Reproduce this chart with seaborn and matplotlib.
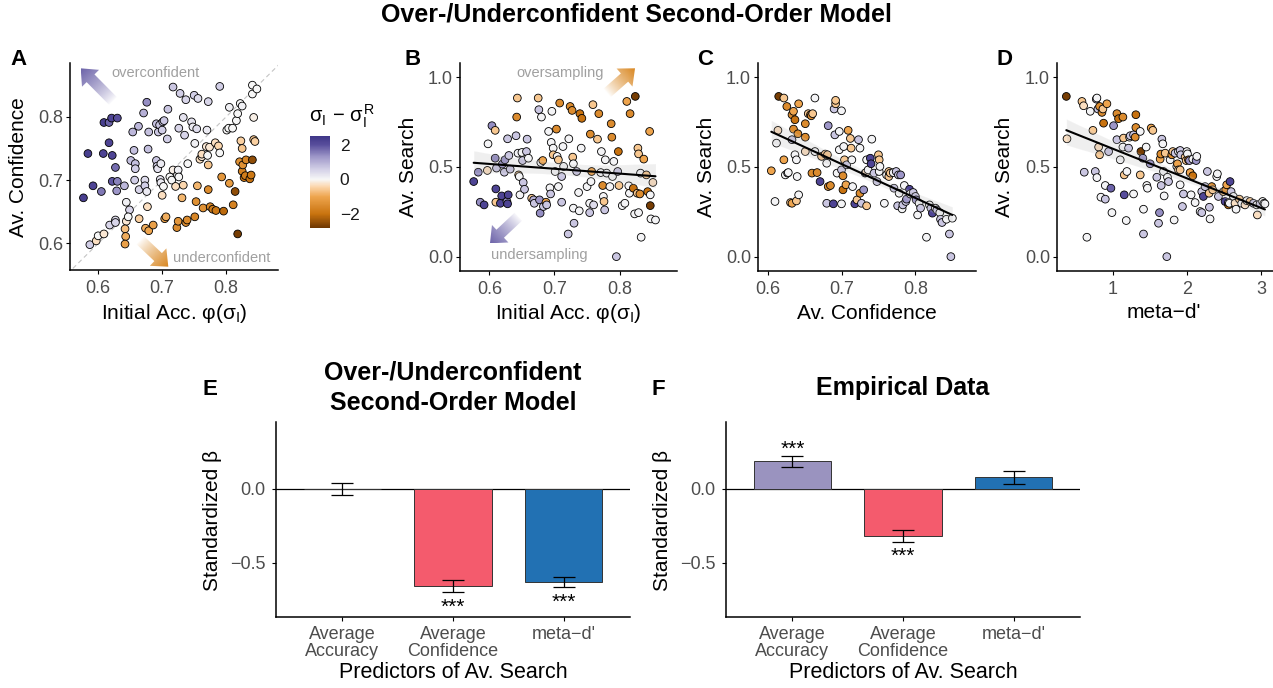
import numpy as np
import pandas as pd
import matplotlib
matplotlib.use("Agg")
import matplotlib.pyplot as plt
import seaborn as sns
from matplotlib.colors import LinearSegmentedColormap, Normalize, to_rgb
from matplotlib.patches import Polygon
from matplotlib.cm import ScalarMappable

# ---------------------------------------------------------------------------
# Data: one row per simulated participant (x, y, sigma_I - sigma_I^R)
# ---------------------------------------------------------------------------
acc_conf = [  # Initial accuracy, average confidence, sigma difference
    (0.577, 0.672, 2.3), (0.584, 0.742, 2.3), (0.592, 0.691, 2.2), (0.605, 0.682, 1.6),
    (0.608, 0.742, 2.2), (0.609, 0.791, 2.3), (0.617, 0.791, 1.8), (0.621, 0.798, 2.2),
    (0.617, 0.759, 2.2), (0.622, 0.739, 2.2), (0.630, 0.798, 2.0), (0.627, 0.720, 1.7),
    (0.622, 0.698, 1.9), (0.630, 0.698, 1.5), (0.629, 0.683, 1.3), (0.641, 0.691, 0.9),
    (0.587, 0.598, 0.6), (0.597, 0.604, -0.3), (0.600, 0.612, 0.0), (0.609, 0.615, -0.2),
    (0.618, 0.629, 0.5), (0.627, 0.637, 0.4), (0.627, 0.633, 0.5), (0.644, 0.635, -0.2),
    (0.642, 0.623, -0.7), (0.643, 0.611, -0.9), (0.642, 0.599, -1.1), (0.644, 0.665, 0.1),
    (0.649, 0.653, 0.5), (0.647, 0.642, 0.0), (0.654, 0.776, 0.9), (0.656, 0.747, 0.8),
    (0.651, 0.731, 0.8), (0.658, 0.726, 0.8), (0.658, 0.718, 0.6), (0.657, 0.700, 0.6),
    (0.663, 0.785, 0.9), (0.664, 0.685, 0.5), (0.664, 0.639, -0.5), (0.671, 0.806, 1.0),
    (0.676, 0.823, 1.4), (0.673, 0.700, 0.4), (0.673, 0.691, 0.6), (0.676, 0.682, 0.2),
    (0.678, 0.749, 0.8), (0.679, 0.776, 0.8), (0.677, 0.658, -0.3), (0.674, 0.624, -0.9),
    (0.679, 0.620, -1.0), (0.686, 0.629, -1.1), (0.691, 0.731, 0.7), (0.692, 0.722, 0.6),
    (0.691, 0.789, 0.8), (0.693, 0.718, 0.3), (0.694, 0.776, 0.7), (0.696, 0.787, 0.7),
    (0.698, 0.726, 0.2), (0.697, 0.701, 0.3), (0.701, 0.792, 0.7), (0.700, 0.779, 0.6),
    (0.703, 0.794, 0.7), (0.708, 0.765, 0.6), (0.700, 0.676, -0.3), (0.698, 0.696, 0.2),
    (0.702, 0.690, 0.0), (0.704, 0.639, -1.1), (0.706, 0.642, -0.9), (0.709, 0.812, 0.7),
    (0.712, 0.705, 0.0), (0.715, 0.700, 0.0), (0.717, 0.716, -0.1), (0.721, 0.690, -0.3),
    (0.724, 0.708, 0.0), (0.725, 0.716, 0.1), (0.726, 0.705, 0.0), (0.723, 0.625, -1.5),
    (0.725, 0.635, -1.3), (0.726, 0.782, 0.5), (0.717, 0.847, 0.7), (0.728, 0.837, 0.6),
    (0.733, 0.799, 0.3), (0.731, 0.672, -0.8), (0.733, 0.692, -0.4), (0.735, 0.771, 0.5),
    (0.737, 0.827, 0.5), (0.737, 0.633, -1.5), (0.739, 0.637, -1.5), (0.740, 0.726, 0.0),
    (0.746, 0.792, 0.3), (0.748, 0.784, 0.2), (0.754, 0.781, 0.4), (0.751, 0.642, -1.6),
    (0.753, 0.666, -1.4), (0.750, 0.834, 0.6), (0.756, 0.829, 0.4), (0.751, 0.758, 0.1),
    (0.755, 0.691, -0.8), (0.759, 0.733, -0.3), (0.762, 0.737, -0.2), (0.762, 0.741, -0.3),
    (0.769, 0.753, -0.2), (0.764, 0.656, -1.4), (0.770, 0.779, 0.2), (0.771, 0.739, 0.0),
    (0.772, 0.824, 0.5), (0.772, 0.724, -0.6), (0.772, 0.685, -1.5), (0.774, 0.752, -0.2),
    (0.775, 0.658, -1.6), (0.779, 0.654, -1.8), (0.783, 0.759, -0.3), (0.784, 0.652, -1.9),
    (0.788, 0.754, -0.4), (0.790, 0.743, 0.0), (0.790, 0.848, 0.6), (0.793, 0.705, -1.3),
    (0.796, 0.651, -2.1), (0.801, 0.779, 0.0), (0.804, 0.782, 0.0), (0.805, 0.815, 0.1),
    (0.805, 0.695, -1.2), (0.810, 0.782, 0.0), (0.811, 0.661, -1.7), (0.814, 0.682, -2.5),
    (0.816, 0.794, 0.0), (0.818, 0.805, 0.0), (0.818, 0.615, -2.7), (0.822, 0.821, 0.0),
    (0.825, 0.817, 0.1), (0.821, 0.729, -1.4), (0.823, 0.762, -0.5), (0.825, 0.750, -0.6),
    (0.825, 0.714, -1.7), (0.826, 0.724, -1.4), (0.828, 0.704, -1.9), (0.830, 0.707, -1.8),
    (0.831, 0.732, -1.6), (0.837, 0.702, -2.0), (0.839, 0.708, -1.9), (0.841, 0.732, -2.5),
    (0.841, 0.850, 0.0), (0.841, 0.836, 0.0), (0.843, 0.799, -0.1), (0.843, 0.764, -0.6),
    (0.845, 0.761, -0.5), (0.848, 0.844, 0.0),
]

acc_search = [  # Initial accuracy, average search, sigma difference
    (0.576, 0.418, 2.2), (0.583, 0.470, 1.4), (0.586, 0.303, 1.4), (0.592, 0.288, 2.2),
    (0.598, 0.628, 0.05), (0.597, 0.480, -0.3), (0.604, 0.729, 1.4), (0.609, 0.703, -0.6),
    (0.609, 0.548, 1.4), (0.610, 0.377, 2.2), (0.610, 0.303, -0.6), (0.611, 0.493, 0.7),
    (0.617, 0.297, 2.2), (0.619, 0.338, 2.2), (0.620, 0.515, 1.3), (0.623, 0.470, 0.7),
    (0.624, 0.539, 1.3), (0.627, 0.307, 1.3), (0.628, 0.294, 2.2), (0.629, 0.344, 2.2),
    (0.628, 0.656, 0.7), (0.630, 0.563, 0.7), (0.632, 0.487, 0.7), (0.641, 0.673, 0.7),
    (0.642, 0.777, -1.5), (0.643, 0.883, -0.6), (0.644, 0.576, 0.05), (0.645, 0.455, -0.6),
    (0.646, 0.446, 0.05), (0.647, 0.344, 0.05), (0.650, 0.580, 0.05), (0.651, 0.535, 0.7),
    (0.652, 0.413, 0.7), (0.654, 0.375, 0.7), (0.657, 0.585, 0.7), (0.658, 0.654, 0.7),
    (0.660, 0.548, 0.05), (0.665, 0.325, -0.6), (0.668, 0.316, 1.0), (0.669, 0.297, 0.7),
    (0.675, 0.883, -0.6), (0.676, 0.818, 0.7), (0.680, 0.777, 0.05), (0.677, 0.316, 1.3),
    (0.678, 0.242, 1.4), (0.679, 0.524, 0.05), (0.682, 0.535, -1.0), (0.683, 0.279, 0.7),
    (0.687, 0.303, -1.0), (0.688, 0.288, 0.7), (0.691, 0.697, 0.05), (0.693, 0.383, 0.05),
    (0.694, 0.349, 0.7), (0.696, 0.809, 0.05), (0.695, 0.636, 0.05), (0.698, 0.604, 0.05),
    (0.698, 0.567, -0.6), (0.701, 0.474, 0.05), (0.703, 0.710, -1.5), (0.704, 0.558, 0.05),
    (0.706, 0.539, -0.6), (0.706, 0.390, 0.05), (0.708, 0.855, -1.5), (0.711, 0.446, 0.7),
    (0.711, 0.303, 0.7), (0.713, 0.613, 0.05), (0.714, 0.502, 0.05), (0.721, 0.126, 0.7),
    (0.722, 0.656, 0.05), (0.724, 0.836, -1.5), (0.727, 0.814, -1.5), (0.728, 0.554, -0.6),
    (0.729, 0.517, 0.05), (0.729, 0.270, 0.05), (0.730, 0.186, 0.7), (0.734, 0.474, 0.7),
    (0.737, 0.357, 0.05), (0.738, 0.255, 0.05), (0.739, 0.796, -2.0), (0.741, 0.604, 0.05),
    (0.742, 0.770, -2.0), (0.750, 0.390, 0.05), (0.755, 0.682, -1.5), (0.756, 0.418, 0.05),
    (0.757, 0.474, -1.0), (0.754, 0.297, 0.05), (0.754, 0.245, 0.7), (0.760, 0.288, 0.4),
    (0.759, 0.846, -0.6), (0.766, 0.654, -0.6), (0.768, 0.796, -1.5), (0.772, 0.585, 0.05),
    (0.771, 0.468, 0.05), (0.774, 0.396, -1.5), (0.775, 0.335, 0.05), (0.776, 0.307, -0.6),
    (0.777, 0.260, 0.7), (0.778, 0.539, 0.05), (0.780, 0.465, 0.05), (0.785, 0.390, 0.05),
    (0.787, 0.740, -1.5), (0.788, 0.665, -1.5), (0.789, 0.446, 0.05), (0.791, 0.530, 0.05),
    (0.795, 0.000, 0.7), (0.797, 0.474, 0.7), (0.798, 0.585, -2.0), (0.799, 0.396, -0.6),
    (0.804, 0.284, 0.05), (0.808, 0.297, 0.05), (0.811, 0.864, -1.0), (0.814, 0.394, 0.05),
    (0.815, 0.353, 0.05), (0.816, 0.796, -1.5), (0.821, 0.381, -2.0), (0.824, 0.892, -2.7),
    (0.823, 0.238, 0.05), (0.827, 0.353, -0.6), (0.828, 0.604, -0.6), (0.829, 0.572, -0.6),
    (0.829, 0.245, 0.05), (0.831, 0.349, -1.5), (0.832, 0.465, 0.05), (0.833, 0.108, 0.05),
    (0.837, 0.543, -1.0), (0.841, 0.455, -0.6), (0.843, 0.362, -2.0), (0.846, 0.697, -1.0),
    (0.847, 0.284, -2.7), (0.847, 0.344, 0.05), (0.848, 0.210, 0.05), (0.851, 0.413, -0.3),
    (0.855, 0.204, 0.05),
]

conf_search = [  # Average confidence, average search, sigma difference
    (0.605, 0.478, -1.0), (0.610, 0.307, 0.05), (0.612, 0.632, 0.05), (0.614, 0.703, -0.3),
    (0.615, 0.892, -2.7), (0.622, 0.539, -1.0), (0.622, 0.883, -0.6), (0.626, 0.836, -1.5),
    (0.624, 0.455, 0.05), (0.627, 0.465, 0.7), (0.628, 0.468, 0.05), (0.631, 0.301, -0.6),
    (0.633, 0.297, -1.0), (0.633, 0.790, -1.5), (0.635, 0.809, -1.0), (0.635, 0.710, -1.5),
    (0.633, 0.651, 0.7), (0.637, 0.762, -2.0), (0.637, 0.567, 0.05), (0.639, 0.539, 0.05),
    (0.639, 0.310, -0.6), (0.641, 0.684, -1.5), (0.642, 0.851, -1.0), (0.642, 0.344, 0.05),
    (0.640, 0.446, 0.05), (0.651, 0.665, -1.5), (0.651, 0.740, -1.5), (0.651, 0.585, -0.3),
    (0.655, 0.796, -0.6), (0.658, 0.790, -1.0), (0.659, 0.784, -1.5), (0.661, 0.796, -0.6),
    (0.660, 0.465, -1.5), (0.664, 0.585, 0.05), (0.664, 0.883, 0.05), (0.667, 0.468, -1.5),
    (0.671, 0.418, 2.2), (0.673, 0.558, -0.6), (0.678, 0.571, -0.6), (0.680, 0.520, 0.05),
    (0.681, 0.567, -0.6), (0.680, 0.297, 0.7), (0.682, 0.729, 1.3), (0.682, 0.390, -1.5),
    (0.685, 0.396, -1.5), (0.689, 0.294, 2.2), (0.690, 0.822, 0.7), (0.691, 0.678, 0.7),
    (0.692, 0.851, -0.6), (0.692, 0.870, -0.6), (0.694, 0.465, 0.05), (0.697, 0.697, 0.05),
    (0.697, 0.595, 0.05), (0.700, 0.294, 0.05), (0.700, 0.812, 0.05), (0.700, 0.483, 0.7),
    (0.702, 0.372, -2.0), (0.702, 0.450, -1.5), (0.703, 0.613, 0.05), (0.704, 0.539, -0.6),
    (0.706, 0.400, -1.0), (0.707, 0.511, 0.7), (0.709, 0.703, -1.0), (0.712, 0.658, -0.6),
    (0.713, 0.604, -0.6), (0.714, 0.539, 0.05), (0.715, 0.390, 0.05), (0.718, 0.294, 2.2),
    (0.721, 0.316, -0.6), (0.723, 0.651, 0.7), (0.725, 0.604, 0.05), (0.725, 0.353, -1.5),
    (0.727, 0.297, 0.7), (0.730, 0.372, 1.3), (0.732, 0.465, 0.7), (0.734, 0.283, -0.6),
    (0.733, 0.468, -0.3), (0.734, 0.539, 0.05), (0.736, 0.483, 0.05), (0.739, 0.548, 2.2),
    (0.740, 0.517, 2.2), (0.741, 0.654, 0.05), (0.744, 0.465, 0.7), (0.748, 0.418, 0.7),
    (0.750, 0.567, -0.6), (0.751, 0.539, -0.6), (0.751, 0.474, 0.05), (0.752, 0.502, 0.05),
    (0.758, 0.297, 0.05), (0.761, 0.455, 0.05), (0.764, 0.446, -0.6), (0.764, 0.474, -0.6),
    (0.766, 0.465, -0.6), (0.770, 0.468, 0.05), (0.771, 0.381, 0.7), (0.774, 0.474, 0.7),
    (0.776, 0.283, 0.7), (0.777, 0.455, 0.7), (0.778, 0.353, 0.05), (0.780, 0.455, 1.3),
    (0.782, 0.266, 0.05), (0.783, 0.288, 0.7), (0.785, 0.396, 0.05), (0.787, 0.307, 0.7),
    (0.788, 0.320, 1.3), (0.792, 0.375, 2.2), (0.793, 0.349, 0.05), (0.797, 0.357, 0.7),
    (0.800, 0.335, 0.7), (0.801, 0.316, 1.3), (0.803, 0.232, 0.05), (0.805, 0.297, 0.05),
    (0.807, 0.270, 0.7), (0.815, 0.108, 0.05), (0.819, 0.288, 0.05), (0.821, 0.270, 0.7),
    (0.823, 0.242, 2.2), (0.827, 0.270, 0.05), (0.829, 0.260, 0.7), (0.833, 0.245, 0.05),
    (0.834, 0.208, 0.7), (0.836, 0.190, 0.7), (0.842, 0.208, 0.05), (0.846, 0.126, 0.7),
    (0.848, 0.000, 0.7), (0.850, 0.214, 0.05),
]

metad_search = [  # meta-d', average search, sigma difference
    (0.371, 0.892, -2.7), (0.380, 0.656, -0.3), (0.582, 0.864, -0.6), (0.604, 0.840, -0.3),
    (0.613, 0.470, 0.7), (0.649, 0.108, 0.05), (0.694, 0.809, 0.05), (0.730, 0.703, -0.6),
    (0.762, 0.474, 0.7), (0.775, 0.877, 0.7), (0.784, 0.883, 0.05), (0.784, 0.440, 0.05),
    (0.798, 0.822, 0.7), (0.820, 0.836, -1.5), (0.807, 0.610, -0.3), (0.820, 0.567, -0.6),
    (0.838, 0.331, 0.05), (0.852, 0.803, -1.5), (0.865, 0.822, -0.6), (0.874, 0.743, -2.0),
    (0.897, 0.320, 0.7), (0.897, 0.396, 0.05), (0.919, 0.851, -1.0), (0.942, 0.585, 0.7),
    (0.973, 0.381, 1.8), (1.009, 0.729, 1.3), (0.987, 0.245, 0.05), (1.054, 0.796, -1.5),
    (1.076, 0.768, -2.0), (1.054, 0.651, 0.7), (1.099, 0.539, 0.05), (1.135, 0.777, -1.5),
    (1.135, 0.610, 0.05), (1.144, 0.660, -0.6), (1.153, 0.455, -0.6), (1.153, 0.344, 2.0),
    (1.180, 0.201, 0.05), (1.189, 0.474, 0.05), (1.211, 0.604, 0.7), (1.225, 0.665, 0.05),
    (1.234, 0.673, 0.7), (1.279, 0.678, 0.7), (1.279, 0.349, 0.05), (1.301, 0.665, -1.5),
    (1.310, 0.719, -1.5), (1.310, 0.790, -2.0), (1.369, 0.455, -0.6), (1.378, 0.585, -2.7),
    (1.369, 0.697, 0.05), (1.404, 0.548, 1.3), (1.413, 0.264, 0.05), (1.413, 0.126, 0.7),
    (1.449, 0.610, 0.05), (1.458, 0.396, 0.05), (1.467, 0.381, 0.05), (1.503, 0.517, 1.3),
    (1.517, 0.716, -1.0), (1.539, 0.703, -0.6), (1.593, 0.442, 0.7), (1.616, 0.186, 0.7),
    (1.629, 0.245, 1.4), (1.638, 0.543, -1.0), (1.647, 0.571, -1.5), (1.652, 0.396, 0.7),
    (1.661, 0.654, 0.7), (1.674, 0.628, 0.05), (1.683, 0.474, 0.05), (1.692, 0.338, 0.05),
    (1.706, 0.576, -0.6), (1.728, 0.000, 0.7), (1.737, 0.442, 0.05), (1.751, 0.418, 0.7),
    (1.773, 0.539, 0.05), (1.795, 0.567, -1.5), (1.809, 0.585, -0.6), (1.827, 0.204, 0.05),
    (1.840, 0.576, 0.7), (1.863, 0.502, 0.05), (1.872, 0.517, -1.0), (1.885, 0.483, -0.6),
    (1.885, 0.585, 0.05), (1.908, 0.591, 0.7), (1.908, 0.483, -0.6), (1.908, 0.400, 0.05),
    (1.917, 0.567, 0.7), (1.939, 0.279, 0.7), (1.953, 0.349, 0.7), (1.975, 0.554, -0.6),
    (1.989, 0.535, -0.6), (1.998, 0.585, 0.05), (2.007, 0.572, 0.05), (2.020, 0.539, -1.5),
    (2.034, 0.535, 1.3), (2.043, 0.465, 0.05), (2.043, 0.468, -1.0), (2.056, 0.344, 0.05),
    (2.079, 0.543, 0.05), (2.079, 0.450, -2.0), (2.110, 0.301, 0.05), (2.124, 0.535, 1.3),
    (2.133, 0.558, 0.05), (2.178, 0.251, 0.05), (2.200, 0.245, 0.7), (2.200, 0.362, 0.7),
    (2.222, 0.335, 2.2), (2.245, 0.390, 0.7), (2.276, 0.474, 0.7), (2.299, 0.353, -0.6),
    (2.303, 0.275, 0.7), (2.312, 0.210, 0.05), (2.335, 0.390, -1.5), (2.348, 0.372, -0.6),
    (2.402, 0.446, 0.05), (2.411, 0.461, 0.05), (2.425, 0.335, 0.7), (2.492, 0.362, -0.6),
    (2.515, 0.307, 2.2), (2.524, 0.372, -1.5), (2.537, 0.400, -1.0), (2.560, 0.288, -2.0),
    (2.560, 0.301, 0.7), (2.573, 0.297, 0.05), (2.582, 0.418, 2.2), (2.596, 0.362, 0.7),
    (2.627, 0.335, 0.05), (2.649, 0.297, -0.3), (2.663, 0.264, 0.05), (2.708, 0.320, -0.6),
    (2.739, 0.297, 0.05), (2.784, 0.288, -0.3), (2.807, 0.312, 0.05), (2.852, 0.307, -0.6),
    (2.897, 0.297, 0.7), (2.942, 0.288, 0.05), (2.951, 0.232, -0.3), (2.987, 0.294, 0.7),
    (3.022, 0.307, 0.05), (3.040, 0.297, 0.05), (3.053, 0.294, 0.05),
]

# Regression coefficients predicting average search
predictors = ["Average\nAccuracy", "Average\nConfidence", "meta\u2212d'"]
model_beta = [-0.002, -0.661, -0.632]
model_se = [0.040, 0.040, 0.036]
model_sig = ["", "***", "***"]
empirical_beta = [0.186, -0.318, 0.075]
empirical_se = [0.037, 0.040, 0.041]
empirical_sig = ["***", "***", ""]

# ---------------------------------------------------------------------------
# Style
# ---------------------------------------------------------------------------
sns.set_style("ticks")
plt.rcParams["font.family"] = ["Liberation Sans", "DejaVu Sans"]
plt.rcParams["mathtext.fontset"] = "custom"
plt.rcParams["mathtext.rm"] = "Liberation Sans"
plt.rcParams["mathtext.it"] = "Liberation Sans"
plt.rcParams["mathtext.bf"] = "Liberation Sans:bold"
plt.rcParams["text.color"] = "black"
plt.rcParams["axes.labelcolor"] = "black"

TICK_GREY = "#4d4d4d"
VMIN, VMAX = -2.8, 2.5
stops = [(-2.8, "#6e3702"), (-2.0, "#c9730f"), (-1.0, "#eea54e"), (-0.4, "#fcd8b0"),
         (0.0, "#f7f7f7"), (0.6, "#d2cfe6"), (1.3, "#9f98c9"), (2.0, "#584e9c"),
         (2.5, "#3f3688")]
cmap = LinearSegmentedColormap.from_list(
    "sigma_diff", [((v - VMIN) / (VMAX - VMIN), c) for v, c in stops])
norm = Normalize(VMIN, VMAX)
bar_colors = ["#9a93bf", "#f45b6d", "#2271b3"]

W, H = 1273, 688
fig = plt.figure(figsize=(W / 100, H / 100), dpi=100)


def add_axes(left, top, right, bottom):
    return fig.add_axes([left / W, 1 - bottom / H, (right - left) / W, (bottom - top) / H])


def ftext(x, y, s, **kw):
    fig.text(x / W, 1 - y / H, s, **kw)


def style_axes(ax, xlim, ylim, xticks, xlabels, yticks, ylabels, xpad=4.0, ypad=2.0, size=13):
    ax.set_xlim(*xlim)
    ax.set_ylim(*ylim)
    ax.set_xticks(xticks)
    ax.set_xticklabels(xlabels)
    ax.set_yticks(yticks)
    ax.set_yticklabels(ylabels)
    ax.set_xlabel("")
    ax.set_ylabel("")
    for s in ("top", "right"):
        ax.spines[s].set_visible(False)
    for s in ("left", "bottom"):
        ax.spines[s].set_linewidth(1.1)
        ax.spines[s].set_color("black")
    ax.tick_params(length=3, width=0.8, color="black", labelcolor=TICK_GREY, labelsize=size)
    ax.tick_params(axis="x", pad=xpad)
    ax.tick_params(axis="y", pad=ypad)
    ax.set_facecolor("none")


def scatter(ax, df, x, y, reg=False):
    sns.scatterplot(data=df, x=x, y=y, hue="diff", palette=cmap, hue_norm=norm, s=31,
                    edgecolor="black", linewidth=0.6, legend=False, ax=ax, zorder=3)
    if reg:
        sns.regplot(data=df, x=x, y=y, scatter=False, ci=95, n_boot=1000, seed=7,
                    color="black", line_kws={"lw": 1.5}, truncate=True, ax=ax)
        ax.collections[-1].set_facecolor((0.6, 0.6, 0.6, 0.45))
        ax.collections[-1].set_zorder(3.5)
        ax.lines[-1].set_zorder(4)


def gradient_arrow(ax, tail, tip, color, shaft=11, head_w=24, head_len=14):
    tr = ax.transData
    p0 = tr.transform(tail)
    p1 = tr.transform(tip)
    d = p1 - p0
    L = np.hypot(*d)
    u = d / L
    n = np.array([-u[1], u[0]])
    b = p1 - u * head_len
    pts = np.array([p0 + n * shaft / 2, b + n * shaft / 2, b + n * head_w / 2, p1,
                    b - n * head_w / 2, b - n * shaft / 2, p0 - n * shaft / 2])
    dpts = tr.inverted().transform(pts)
    poly = Polygon(dpts, closed=True, facecolor="none", edgecolor="none", transform=tr)
    ax.add_patch(poly)
    x0, y0 = dpts.min(0)
    x1, y1 = dpts.max(0)
    X, Y = np.meshgrid(np.linspace(x0, x1, 90), np.linspace(y0, y1, 90))
    disp = tr.transform(np.column_stack([X.ravel(), Y.ravel()]))
    t = np.clip(((disp - p0) @ u) / L, 0, 1).reshape(X.shape)
    rgba = np.zeros(X.shape + (4,))
    rgba[..., :3] = to_rgb(color)
    rgba[..., 3] = t ** 0.85
    im = ax.imshow(rgba, extent=(x0, x1, y0, y1), origin="lower", aspect="auto",
                   interpolation="bilinear", zorder=2)
    im.set_clip_path(poly)


df_a = pd.DataFrame(acc_conf, columns=["acc", "conf", "diff"])
df_b = pd.DataFrame(acc_search, columns=["acc", "search", "diff"])
df_c = pd.DataFrame(conf_search, columns=["conf", "search", "diff"])
df_d = pd.DataFrame(metad_search, columns=["metad", "search", "diff"])

search_ticks = ([0.0, 0.5, 1.0], ["0.0", "0.5", "1.0"])
acc_ticks = ([0.6, 0.7, 0.8], ["0.6", "0.7", "0.8"])

# ---------------- Panel A ----------------
axA = add_axes(70, 63, 278, 270)
xlimA, ylimA = (0.556, 0.881), (0.558, 0.885)
axA.plot([0.5, 0.95], [0.5, 0.95], ls=(0, (4, 3)), color="#c4c4c4", lw=0.8, zorder=1)
scatter(axA, df_a, "acc", "conf")
style_axes(axA, xlimA, ylimA, *acc_ticks, [0.6, 0.7, 0.8], ["0.6", "0.7", "0.8"])
gradient_arrow(axA, (0.6232, 0.825), (0.5727, 0.8766), "#6c63a9")
gradient_arrow(axA, (0.6654, 0.6054), (0.7096, 0.5632), "#d9861f")
axA.text(0.6212, 0.8697, "overconfident", color="#a0a0a0", fontsize=10.5, va="center", ha="left")
axA.text(0.7165, 0.5765, "underconfident", color="#a0a0a0", fontsize=10.5, va="center", ha="left")
axA.set_xlim(*xlimA)
axA.set_ylim(*ylimA)

# ---------------- Panel B ----------------
axB = add_axes(460, 63, 677, 271)
xlimB, ylimB = (0.555, 0.888), (-0.08, 1.078)
scatter(axB, df_b, "acc", "search", reg=True)
style_axes(axB, xlimB, ylimB, *acc_ticks, *search_ticks)
gradient_arrow(axB, (0.7801, 0.9093), (0.8236, 1.0485), "#d9861f")
gradient_arrow(axB, (0.6445, 0.2223), (0.6010, 0.0742), "#6c63a9")
axB.text(0.7085, 1.0207, "oversampling", color="#a0a0a0", fontsize=10.5, va="center", ha="center")
axB.text(0.6767, 0.009, "undersampling", color="#a0a0a0", fontsize=10.5, va="center", ha="center")
axB.set_xlim(*xlimB)
axB.set_ylim(*ylimB)

# ---------------- Panel C ----------------
axC = add_axes(758, 63, 976, 271)
scatter(axC, df_c, "conf", "search", reg=True)
style_axes(axC, (0.587, 0.882), (-0.08, 1.078), [0.6, 0.7, 0.8], ["0.6", "0.7", "0.8"], *search_ticks)

# ---------------- Panel D ----------------
axD = add_axes(1057, 63, 1273, 271)
scatter(axD, df_d, "metad", "search", reg=True)
style_axes(axD, (0.245, 3.162), (-0.08, 1.078), [1, 2, 3], ["1", "2", "3"], *search_ticks)

# ---------------- Colour bar ----------------
cax = add_axes(310, 136, 330, 228)
cb = fig.colorbar(ScalarMappable(norm=norm, cmap=cmap), cax=cax)
cb.outline.set_visible(False)
cb.set_ticks([-2, 0, 2])
cb.set_ticklabels(["\u22122", "0", "2"])
cax.tick_params(direction="in", color="white", width=1.0, length=4, left=True, right=True,
                labelleft=False, labelright=True, labelsize=12.5, labelcolor="#1a1a1a", pad=7)
ftext(309, 116, r"$\sigma_I\,-\,\sigma_I^R$", fontsize=14.5, ha="left", va="center")

# ---------------- Panels E and F ----------------
def beta_panel(ax, beta, se, sig):
    sns.barplot(x=predictors, y=beta, hue=predictors, palette=bar_colors, legend=False,
                saturation=1, width=0.7, edgecolor="#333333", linewidth=0.7, ax=ax, zorder=2)
    ax.axhline(0, color="black", lw=0.9, zorder=1)
    ax.errorbar(range(3), beta, yerr=se, fmt="none", ecolor="black", elinewidth=0.9,
                capsize=8.2, capthick=0.9, zorder=3)
    for i, (b, e, s) in enumerate(zip(beta, se, sig)):
        if s:
            ypos = b - e - 0.103 if b < 0 else b + e + 0.042
            ax.text(i, ypos, s, ha="center", va="center", fontsize=15, color="black")
    style_axes(ax, (-0.6, 2.6), (-0.868, 0.45), [0, 1, 2], predictors,
               [-0.5, 0.0], ["\u22120.5", "0.0"], xpad=3.6, ypad=4.5, size=13)
    for lab in ax.get_xticklabels():
        lab.set_linespacing(1.0)


axE = add_axes(276, 422, 630, 617)
beta_panel(axE, model_beta, model_se, model_sig)
axF = add_axes(726, 422, 1080, 617)
beta_panel(axF, empirical_beta, empirical_se, empirical_sig)

# ---------------- Titles, labels, panel letters ----------------
ftext(636, 21, "Over-/Underconfident Second-Order Model", fontsize=18, fontweight="bold",
      ha="center", va="baseline")
ftext(453, 379, "Over-/Underconfident", fontsize=18, fontweight="bold", ha="center", va="baseline")
ftext(453, 410, "Second-Order Model", fontsize=18, fontweight="bold", ha="center", va="baseline")
ftext(903, 395, "Empirical Data", fontsize=18, fontweight="bold", ha="center", va="baseline")

for letter, x, y in [("A", 10, 65), ("B", 405, 65), ("C", 697, 65), ("D", 997, 65)]:
    ftext(x, y, letter, fontsize=16, fontweight="bold", ha="left", va="baseline")
for letter, x, y in [("E", 202, 395), ("F", 652, 395)]:
    ftext(x, y, letter, fontsize=16, fontweight="bold", ha="left", va="baseline")

acc_label = r"Initial Acc. $\varphi(\sigma_I)$"
ftext(174, 314, acc_label, fontsize=15, ha="center", va="center")
ftext(568, 314, acc_label, fontsize=15, ha="center", va="center")
ftext(867, 314, "Av. Confidence", fontsize=15, ha="center", va="center")
ftext(1164, 313, "meta\u2212d'", fontsize=15, ha="center", va="center")
ftext(19, 167, "Av. Confidence", fontsize=15, ha="center", va="center", rotation=90)
ftext(409, 167, "Av. Search", fontsize=15, ha="center", va="center", rotation=90)
ftext(707, 167, "Av. Search", fontsize=15, ha="center", va="center", rotation=90)
ftext(1005, 167, "Av. Search", fontsize=15, ha="center", va="center", rotation=90)

for cx, ly in [(453, 212), (903, 662)]:
    ftext(cx, 673, "Predictors of Av. Search", fontsize=15.5, ha="center", va="center")
    ftext(ly, 520, "Standardized \u03b2", fontsize=15, ha="center", va="center", rotation=90)

fig.savefig("out.png", dpi=100, facecolor="white")
